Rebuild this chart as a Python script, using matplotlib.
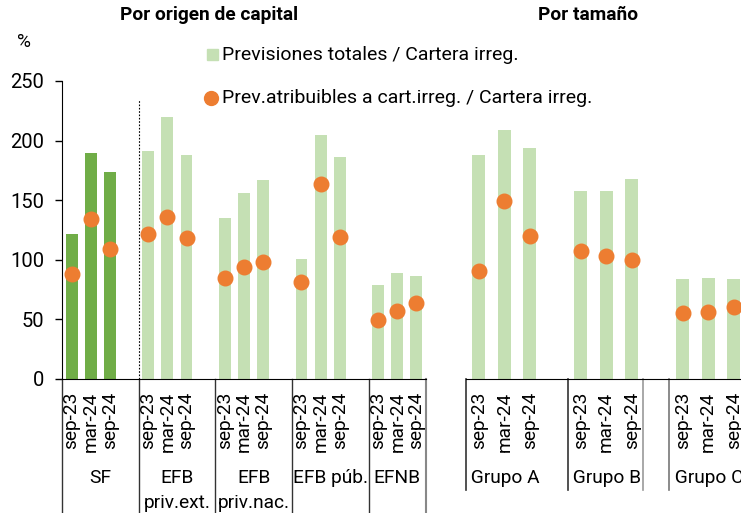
import matplotlib
matplotlib.use("Agg")
import matplotlib.pyplot as plt
from matplotlib.patches import Rectangle
from matplotlib.lines import Line2D
from matplotlib.transforms import blended_transform_factory

plt.rcParams['font.family'] = ['Roboto', 'DejaVu Sans']

periods = ["sep-23", "mar-24", "sep-24"]

# left panel: por origen de capital
groups_left = ["SF", "EFB\npriv.ext.", "EFB\npriv.nac.", "EFB púb.", "EFNB"]
total_left = [
    [122, 190, 174],
    [191, 220, 188],
    [135, 156, 167],
    [101, 205, 186],
    [79, 89, 86],
]
attr_left = [
    [88, 134, 109],
    [122, 136, 118],
    [85, 94, 98],
    [81, 164, 119],
    [49.5, 57, 64],
]

# right panel: por tamaño
groups_right = ["Grupo A", "Grupo B", "Grupo C"]
total_right = [
    [188, 209, 194],
    [158, 158, 168],
    [84, 85, 84],
]
attr_right = [
    [91, 149, 120],
    [107, 103, 100],
    [55, 56, 60],
]

DARK = "#70AD47"
LIGHT = "#C5E0B4"
ORANGE = "#ED7D31"

W, H = 741, 513
fig = plt.figure(figsize=(W / 100, H / 100), dpi=100)


def fx(x):
    return x / W


def fy(y):
    return 1 - y / H


y0, y1 = 379, 81
axl = fig.add_axes([fx(62), fy(y0), fx(426 - 62), (y0 - y1) / H])
axr = fig.add_axes([fx(466), fy(y0), fx(741 - 466), (y0 - y1) / H])

for ax in (axl, axr):
    ax.set_ylim(0, 250)
    ax.spines[['top', 'right']].set_visible(False)
    ax.set_xticks([])
    ax.patch.set_alpha(0)

axl.set_xlim(-0.5, 18.5)
axr.set_xlim(-0.5, (741 - 466) / 25.5 - 0.5)
axr.spines['left'].set_visible(False)
axr.set_yticks([])

axl.set_yticks([0, 50, 100, 150, 200, 250])
axl.tick_params(axis='y', direction='out', length=5, width=1, labelsize=14.5, pad=8)

label_fs = 13.8
below_top = -13 / 298
cat_y1 = -99 / 298
cat_y2 = -124 / 298


def draw_panel(ax, groups, total, attr, step, width, first_dark):
    tr = blended_transform_factory(ax.transData, ax.transAxes)
    for g, name in enumerate(groups):
        xs = [g * step + i for i in range(3)]
        col = DARK if (first_dark and g == 0) else LIGHT
        ax.bar(xs, total[g], width=width, color=col, zorder=2)
        ax.plot(xs, attr[g], 'o', color=ORANGE, markersize=10.5, zorder=3)
        for x, p in zip(xs, periods):
            ax.text(x, below_top, p, rotation=90, ha='center', va='top',
                    fontsize=label_fs, transform=tr)
    return tr


trl = draw_panel(axl, groups_left, total_left, attr_left, 4, 0.62, True)
for g, name in enumerate(groups_left):
    lines = name.split("\n")
    cx = g * 4 + (1.5 if g < 4 else 1)
    axl.text(cx, cat_y1, lines[0], ha='center', va='center', fontsize=label_fs, transform=trl)
    if len(lines) > 1:
        axl.text(cx, cat_y2, lines[1], ha='center', va='center', fontsize=label_fs, transform=trl)

for xs in [-0.5, 3.5, 7.5, 11.5, 15.5]:
    axl.plot([xs, xs], [0, -0.45], color='#333333', lw=1, transform=trl, clip_on=False)
axl.plot([18.5, 18.5], [0, -0.45], color='#888888', lw=1.5, transform=trl, clip_on=False)
axl.plot([3.5, 3.5], [0, 235], color='black', lw=0.8, ls=(0, (1.5, 1.5)), zorder=1)

trr = draw_panel(axr, groups_right, total_right, attr_right, 4, 0.52, False)
for g, name in enumerate(groups_right):
    axr.text(g * 4 - 0.5, cat_y1, " " + name, ha='left', va='center', fontsize=label_fs,
             transform=trr)
for xs, c in [(-0.5, '#333333'), (3.5, '#333333'), (6.44, '#999999'), (7.46, '#777777')]:
    axr.plot([xs, xs], [0, -0.372], color=c, lw=1.2, transform=trr, clip_on=False)

# titles
fig.text(fx(209), fy(15), "Por origen de capital", ha='center', va='center',
         fontsize=13.8, fontweight='bold')
fig.text(fx(588), fy(15), "Por tamaño", ha='center', va='center',
         fontsize=13.8, fontweight='bold')
fig.text(fx(24), fy(42), "%", ha='center', va='center', fontsize=13.8)

# legend
fig.patches.append(Rectangle((fx(207), fy(60)), fx(10.5), 10.5 / H, color=LIGHT,
                             transform=fig.transFigure, figure=fig))
fig.add_artist(Line2D([fx(211)], [fy(98)], marker='o', color=ORANGE, markersize=10,
                      transform=fig.transFigure))
fig.text(fx(222), fy(55), "Previsiones totales / Cartera irreg.", va='center', fontsize=14)
fig.text(fx(222), fy(98), "Prev.atribuibles a cart.irreg. / Cartera irreg.", va='center',
         fontsize=14)

fig.savefig("out.png", dpi=100)
